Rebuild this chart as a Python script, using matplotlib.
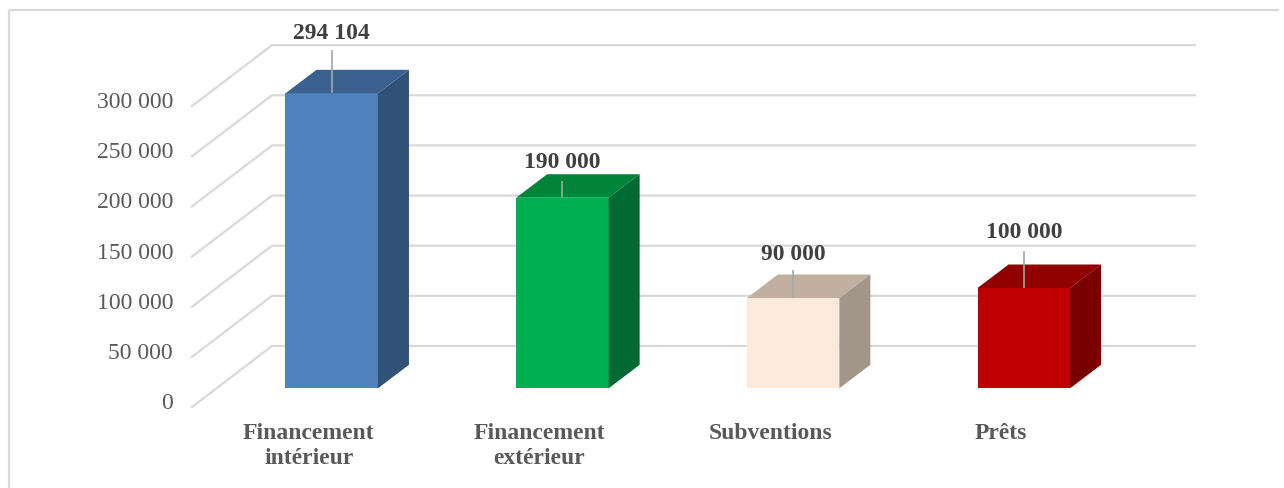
#!/usr/bin/env python3
"""
Funding breakdown as a fake-3D column chart (drawn with flat polygons).
"""
import matplotlib
matplotlib.use("Agg")
import matplotlib.pyplot as plt

# Data
categories = ["Financement\nintérieur", "Financement\nextérieur", "Subventions", "Prêts"]
values = [294104, 190000, 90000, 100000]
value_labels = ["294 104", "190 000", "90 000", "100 000"]
y_ticks = [0, 50000, 100000, 150000, 200000, 250000, 300000]
y_tick_labels = ["0", "50 000", "100 000", "150 000", "200 000", "250 000", "300 000"]

# Colours for each bar: front, top, side
front_colors = ["#4F81BD", "#00B050", "#FDEADA", "#C00000"]
top_colors = ["#3B6190", "#008439", "#C1AF9F", "#900000"]
side_colors = ["#325177", "#006A32", "#A2968B", "#7A0000"]

# Layout, in pixels of the 1284x488 picture
W, H = 1284, 488
X0_PX, STEP_PX = 331.7, 230.7   # centre of the first bar, bar spacing
BAR_W_PX = 92.5
PX_PER_VALUE = 0.001003
BASE_PX = 388.3                 # bar foot
FLOOR_PX = 407.0                # value 0 at the front of the floor
WALL_DX, WALL_DY = 80, 61       # depth of the grid
BAR_DX, BAR_DY = 31, 23.5       # depth of a bar
WALL_RIGHT_PX = 1195
LABEL_LIFT = [60, 35, 44, 55]   # value label above bar top
LEADER_LIFT = [43, 17, 28, 37]  # leader length

fig = plt.figure(figsize=(W / 100, H / 100), dpi=100)
ax = fig.add_axes([0, 0, 1, 1])
# one x unit = one category, y in data values, bar feet sit on value 0
ax.set_xlim(-X0_PX / STEP_PX, (W - X0_PX) / STEP_PX)
ax.set_ylim((BASE_PX - H) / PX_PER_VALUE, BASE_PX / PX_PER_VALUE)
ax.axis("off")

def dx(px):
    return px / STEP_PX

def dy(px):
    return px / PX_PER_VALUE

font = ["Liberation Serif", "DejaVu Serif"]
grid_color = "#D9D9D9"

# Outer frame (left and top only are visible)
ax.plot([dx(9 - X0_PX)] * 2, [dy(BASE_PX - H), dy(BASE_PX - 10)], color=grid_color, lw=1.6, solid_capstyle="butt")
ax.plot([dx(9 - X0_PX), dx(1279 - X0_PX)], [dy(BASE_PX - 10)] * 2, color=grid_color, lw=1.6, solid_capstyle="butt")

# Gridlines: diagonal on the side wall, then flat along the back wall
floor_shift = dy(BASE_PX - FLOOR_PX)
for tick, label in zip(y_ticks, y_tick_labels):
    y_front = tick * 1.0 + floor_shift
    y_back = y_front + dy(WALL_DY)
    x_front = dx(192 - X0_PX)
    x_back = x_front + dx(WALL_DX)
    ax.plot([x_front, x_back, dx(WALL_RIGHT_PX - X0_PX)], [y_front, y_back, y_back],
            color=grid_color, lw=1.6, solid_joinstyle="miter", zorder=1)
    ax.text(dx(173 - X0_PX), y_front + dy(3.5), label, ha="right", va="center",
            fontsize=17, family=font, color="#595959")

# Bars
for i, v in enumerate(values):
    x_l = i - dx(BAR_W_PX) / 2
    x_r = i + dx(BAR_W_PX) / 2
    ddx, ddy = dx(BAR_DX), dy(BAR_DY)
    ax.fill([x_l, x_r, x_r, x_l], [0, 0, v, v], color=front_colors[i], lw=0, zorder=3)
    ax.fill([x_l, x_r, x_r + ddx, x_l + ddx], [v, v, v + ddy, v + ddy], color=top_colors[i], lw=0, zorder=3)
    ax.fill([x_r, x_r + ddx, x_r + ddx, x_r], [0, ddy, v + ddy, v], color=side_colors[i], lw=0, zorder=3)
    # leader line and value label
    ax.plot([i, i], [v, v + dy(LEADER_LIFT[i])], color="#A6A6A6", lw=1.2, zorder=4, solid_capstyle="butt")
    ax.text(i, v + dy(LABEL_LIFT[i]), value_labels[i], ha="center", va="center",
            fontsize=17, family=font, fontweight="bold", color="#404040", zorder=5)
    # category label sits left of the bar centre
    ax.text(i - dx(23), dy(BASE_PX - 423), categories[i], ha="center", va="top",
            fontsize=17, family=font, fontweight="bold", color="#595959", linespacing=1.25)

plt.savefig("out.png", dpi=100)
plt.close()
